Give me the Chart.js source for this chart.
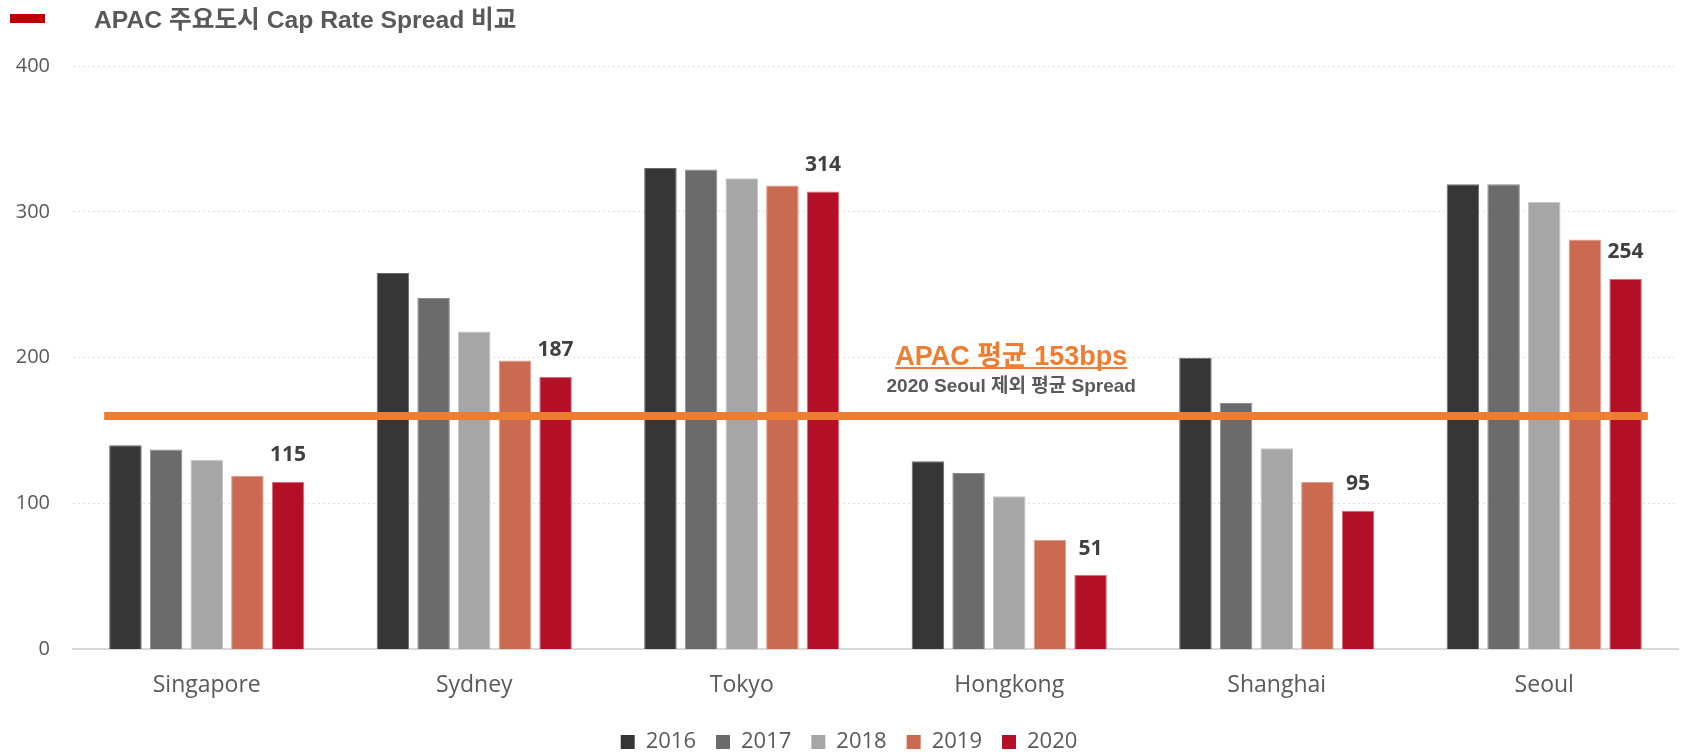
<!DOCTYPE html>
<html><head><meta charset="utf-8">
<script src="https://cdn.jsdelivr.net/npm/chart.js@4/dist/chart.umd.min.js"></script>
<style>html,body{margin:0;padding:0;background:#fff;}#wrap{width:1681px;height:754px;position:relative;}</style>
</head><body><div id="wrap"><canvas id="c" width="1681" height="754"></canvas></div>
<script>
const chartTitle = 'APAC 주요도시 Cap Rate Spread 비교';
const cities = ['Singapore', 'Sydney', 'Tokyo', 'Hongkong', 'Shanghai', 'Seoul'];
const years = ['2016', '2017', '2018', '2019', '2020'];
const v2016 = [140, 258, 330, 129, 200, 319];
const v2017 = [137, 241, 329, 121, 169, 319];
const v2018 = [130, 218, 323, 105, 138, 307];
const v2019 = [119, 198, 318, 75, 115, 281];
const v2020 = [115, 187, 314, 51, 95, 254];
const yTicks = [0, 100, 200, 300, 400];
const avgLineValue = 160;
const avgLabel = 'APAC 평균 153bps';
const avgSubLabel = '2020 Seoul 제외 평균 Spread';

const series = [v2016, v2017, v2018, v2019, v2020];
const fills = ['#363636', '#6a6b6a', '#a6a6a6', '#c96a51', '#b31028'];
const edges = ['#6a6a6a', '#8c8d8c', '#c6c6c6', '#de9c8a', '#d46c7c'];
const TXT = '#595959';
const KFONT = '"Liberation Sans","Noto Sans CJK KR",Arial,sans-serif';

const titlePlugin = {
  id: 'titleMark',
  afterLayout(chart) {
    const l = chart.legend;
    if (l) { l.left += 10; l.right += 10; }
  },
  afterDraw(chart) {
    const ctx = chart.ctx;
    ctx.save();
    ctx.fillStyle = '#c00000';
    ctx.fillRect(10, 14, 35, 9);
    ctx.font = 'bold 24.7px ' + KFONT;
    ctx.fillStyle = TXT;
    ctx.textBaseline = 'alphabetic';
    ctx.textAlign = 'left';
    ctx.fillText(chartTitle, 94, 28);
    ctx.restore();
  }
};

const avgPlugin = {
  id: 'avgLine',
  afterDatasetsDraw(chart) {
    const ctx = chart.ctx;
    const ys = chart.scales.y, xs = chart.scales.x;
    const first = chart.getDatasetMeta(0).data[0];
    const lastMeta = chart.getDatasetMeta(series.length - 1);
    const last = lastMeta.data[lastMeta.data.length - 1];
    const y = ys.getPixelForValue(avgLineValue);
    const x0 = first.x - first.width / 2 - 5;
    const x1 = last.x + last.width / 2 + 6;
    ctx.save();
    ctx.strokeStyle = '#ed7d31';
    ctx.lineWidth = 8;
    ctx.beginPath(); ctx.moveTo(x0, y); ctx.lineTo(x1, y); ctx.stroke();

    // annotation
    const cx = xs.getPixelForValue(3) + 2;
    ctx.textAlign = 'center';
    ctx.textBaseline = 'alphabetic';
    ctx.font = 'bold 27px ' + KFONT;
    ctx.fillStyle = '#ed7d31';
    const y1 = ys.getPixelForValue(195);
    ctx.fillText(avgLabel, cx, y1);
    const w = ctx.measureText(avgLabel).width;
    ctx.fillRect(cx - w / 2, y1 + 2, w, 2);
    ctx.font = 'bold 19px ' + KFONT;
    ctx.fillStyle = TXT;
    ctx.fillText(avgSubLabel, cx, ys.getPixelForValue(176.5));

    // value labels for last series
    ctx.font = 'bold 21px "Open Sans",sans-serif';
    ctx.fillStyle = '#404040';
    lastMeta.data.forEach((bar, i) => {
      ctx.fillText(String(series[series.length - 1][i]), bar.x, bar.y - 20.5);
    });
    ctx.restore();
  }
};

new Chart(document.getElementById('c').getContext('2d'), {
  type: 'bar',
  data: {
    labels: cities,
    datasets: years.map((yr, i) => ({
      label: yr,
      data: series[i],
      backgroundColor: fills[i],
      borderColor: edges[i],
      borderWidth: 1,
      categoryPercentage: 0.76,
      barPercentage: 0.8
    }))
  },
  options: {
    responsive: false,
    animation: false,
    devicePixelRatio: 1,
    layout: { padding: { top: 66, right: 3, left: 0, bottom: 0 } },
    scales: {
      x: {
        grid: { display: false, drawTicks: false },
        border: { display: true, color: '#d9d9d9', width: 2 },
        ticks: { font: { family: 'Open Sans', size: 23 }, color: TXT, padding: 22 },
        afterFit: s => { s.height -= 10; }
      },
      y: {
        min: 0, max: 400,
        afterBuildTicks: s => { s.ticks = yTicks.map(v => ({ value: v })); },
        grid: { color: '#e0e0e0', lineWidth: 1, drawTicks: false },
        border: { display: false, dash: [2, 3] },
        ticks: { font: { family: 'Open Sans', size: 20 }, color: TXT, padding: 23 },
        afterFit: s => { s.width = 73; }
      }
    },
    plugins: {
      legend: {
        position: 'bottom',
        maxHeight: 43,
        labels: {
          boxWidth: 14, boxHeight: 14, padding: 20,
          font: { family: 'Open Sans', size: 22 }, color: TXT,
          generateLabels: chart => Chart.defaults.plugins.legend.labels.generateLabels(chart).map(l => Object.assign(l, { lineWidth: 0 }))
        }
      },
      tooltip: { enabled: false }
    }
  },
  plugins: [titlePlugin, avgPlugin]
});
</script></body></html>
